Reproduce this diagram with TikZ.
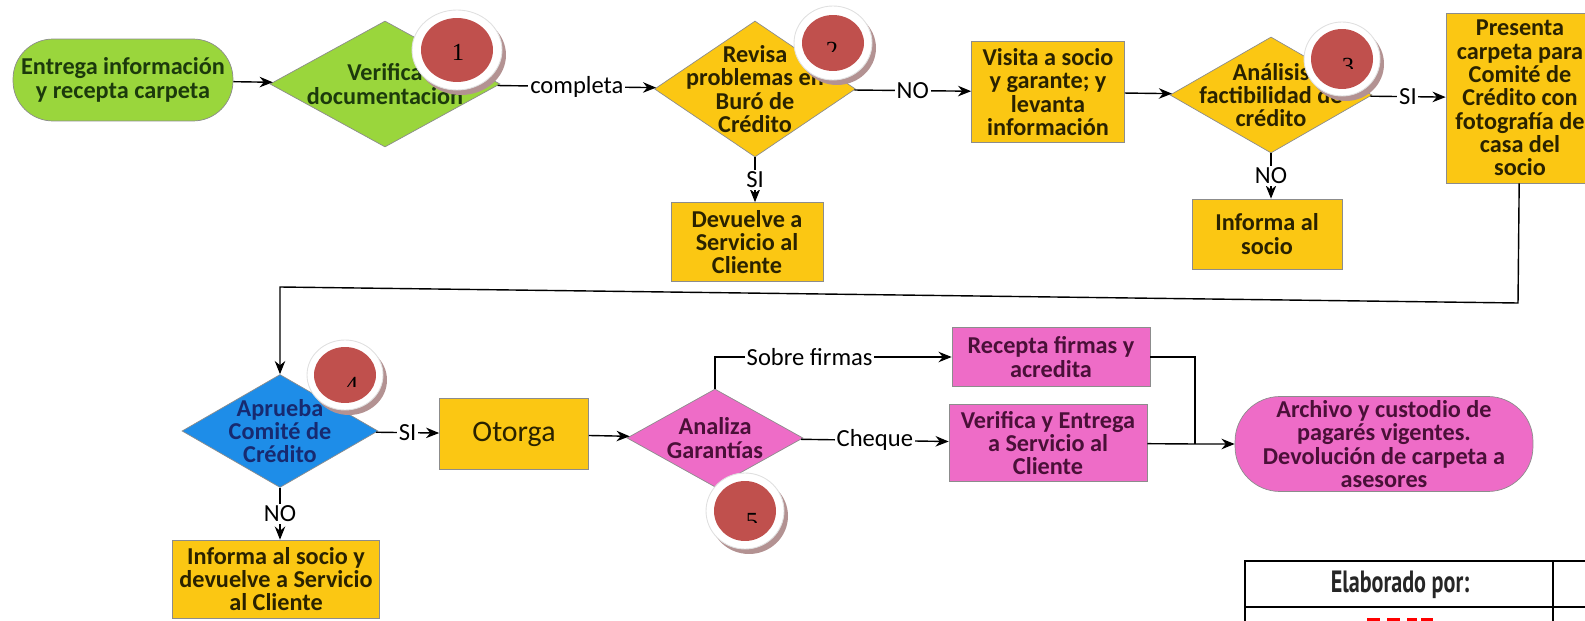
\documentclass[tikz,border=0pt]{standalone}
\usepackage{fontspec}
\setmainfont{Carlito}
\newfontfamily\numfont{Liberation Serif}
\newfontfamily\tabfont{PT Sans}[FakeStretch=0.72]
\usepackage{tikz}
\usetikzlibrary{shapes.geometric}
\usetikzlibrary{arrows.meta}

\definecolor{verde}{HTML}{9AD63C}
\definecolor{verdetxt}{HTML}{1C3A0C}
\definecolor{amarillo}{HTML}{FBC713}
\definecolor{amartxt}{HTML}{2A2200}
\definecolor{azul}{HTML}{1E8DE8}
\definecolor{azultxt}{HTML}{172A70}
\definecolor{rosa}{HTML}{EE6CC7}
\definecolor{rosatxt}{HTML}{4A1038}
\definecolor{rojo}{HTML}{C0504D}
\definecolor{sombra}{HTML}{B39292}

\begin{document}
\begin{tikzpicture}
	[x=0.02cm, y=-0.02cm, thick, >={Stealth[length=7.5pt, width=6pt]},
	txt/.style = {font=\bfseries\fontsize{13.8}{13.3}\selectfont, align=center},
	lbl/.style = {fill=white, inner sep=1pt, font=\fontsize{14}{14}\selectfont},
	proc/.style = {draw=black!45, thin, inner sep=0pt, txt},
	term/.style = {proc, rounded corners=0.8cm},
	dec/.style = {diamond, draw=black!45, thin, inner sep=0pt},
	shade/.style = {ellipse, fill=sombra, inner sep=0pt},
	ring/.style = {ellipse, fill=white, draw=black!12, line width=0.5pt, inner sep=0pt},
	dot/.style = {ellipse, fill=rojo, inner sep=0pt},
	num/.style = {font=\numfont\fontsize{14}{14}\selectfont, inner sep=0pt}]

	\useasboundingbox (0,0) rectangle (1585,621);
	\clip (0,0) rectangle (1585,621);

	\node[term, fill=verde, text=verdetxt, minimum width=4.4cm, minimum height=1.64cm] (1) at (123,80) {Entrega información\\y recepta carpeta};
	\node[dec, fill=verde, minimum width=4.6cm, minimum height=2.52cm, label={[txt, text=verdetxt]center:Verifica\\documentación}] (2) at (385,84) {};
	\node[dec, fill=amarillo, minimum width=4.02cm, minimum height=2.72cm, label={[txt, text=amartxt]center:Revisa\\problemas en\\Buró de\\Crédito}] (3) at (755,89) {};
	\node[proc, fill=amarillo, text=amartxt, minimum width=3.06cm, minimum height=2.02cm] (4) at (1048,92) {Visita a socio\\y garante; y\\levanta\\información};
	\node[dec, fill=amarillo, minimum width=4.04cm, minimum height=2.32cm, label={[txt, text=amartxt]center:Análisis\\factibilidad de\\crédito}] (5) at (1271,95) {};
	\node[proc, fill=amarillo, text=amartxt, minimum width=2.96cm, minimum height=3.4cm] (6) at (1520,98) {Presenta\\carpeta para\\Comité de\\Crédito con\\fotografía de\\casa del\\socio};
	\node[proc, fill=amarillo, text=amartxt, minimum width=3.04cm, minimum height=1.58cm] (7) at (747,242) {Devuelve a\\Servicio al\\Cliente};
	\node[proc, fill=amarillo, text=amartxt, minimum width=3cm, minimum height=1.4cm] (8) at (1267,234) {Informa al\\socio};
	\node[dec, fill=azul, minimum width=3.92cm, minimum height=2.26cm, label={[txt, text=azultxt]center:Aprueba\\Comité de\\Crédito}] (9) at (280,431) {};
	\node[proc, fill=amarillo, text=amartxt, font=\fontsize{17}{17}\selectfont, minimum width=2.98cm, minimum height=1.42cm] (10) at (514,434) {Otorga};
	\node[dec, fill=rosa, minimum width=3.52cm, minimum height=1.96cm, label={[txt, text=rosatxt]center:Analiza\\Garantías}] (11) at (715,438) {};
	\node[proc, fill=rosa, text=rosatxt, minimum width=3.96cm, minimum height=1.18cm] (12) at (1051,357) {Recepta firmas y\\acredita};
	\node[proc, fill=rosa, text=rosatxt, minimum width=3.96cm, minimum height=1.54cm] (13) at (1048,443) {Verifica y Entrega\\a Servicio al\\Cliente};
	\node[term, fill=rosa, text=rosatxt, rounded corners=0.9cm, minimum width=5.96cm, minimum height=1.9cm] (14) at (1384,444) {Archivo y custodio de\\pagarés vigentes.\\Devolución de carpeta a\\asesores};
	\node[proc, fill=amarillo, text=amartxt, minimum width=4.14cm, minimum height=1.56cm] (15) at (276,579) {Informa al socio y\\devuelve a Servicio\\al Cliente};

	\coordinate (k1) at (1518,303);
	\coordinate (k2) at (280,287);
	\coordinate (j) at (1195,444);

	\draw[->] (1) -- (2);
	\draw[->] (2) -- node[lbl] {completa} (3);
	\draw[->] (3) -- node[lbl] {NO} (4);
	\draw[->] (4) -- (5);
	\draw[->] (5) -- node[lbl] {SI} (6);
	\draw[->] (3.south) -- node[lbl] {SI} (3.south |- 7.north);
	\draw[->] (5.south) -- node[lbl] {NO} (5.south |- 8.north);
	\draw[->] (6) -- (k1) -- (k2) -- (9);
	\draw[->] (9) -- node[lbl] {SI} (10);
	\draw[->] (9.south) -- node[lbl] {NO} (9.south |- 15.north);
	\draw[->] (10) -- (11);
	\draw[->] (11) |- node[lbl, pos=0.7] {Sobre firmas} (12);
	\draw[->] (11) -- node[lbl] {Cheque} (13);
	\draw (12) -| (j);
	\draw[->] (13) -- (j) -- (14);

	\node[shade, minimum width=1.8cm, minimum height=1.6cm] at (461,55) {};
	\node[ring, minimum width=1.8cm, minimum height=1.6cm] (c1) at (457,50) {};
	\node[dot, minimum width=1.44cm, minimum height=1.28cm] at (c1) {};
	\node[num] (n1) at (458,52) {1};

	\node[shade, minimum width=1.56cm, minimum height=1.48cm] at (837,48) {};
	\node[ring, minimum width=1.56cm, minimum height=1.48cm] (c2) at (833,43) {};
	\node[dot, minimum width=1.24cm, minimum height=1.12cm] at (c2) {};
	\begin{scope}
		\clip (800,0) rectangle (870,52);
		\node[num, anchor=north] (n2) at (832,42) {2};
	\end{scope}

	\node[shade, minimum width=1.52cm, minimum height=1.48cm] at (1346,64) {};
	\node[ring, minimum width=1.52cm, minimum height=1.48cm] (c3) at (1342,59) {};
	\node[dot, minimum width=1.24cm, minimum height=1.2cm] at (c3) {};
	\begin{scope}
		\clip (1310,20) rectangle (1380,69);
		\node[num, anchor=north] (n3) at (1348,58) {3};
	\end{scope}

	\node[shade, minimum width=1.52cm, minimum height=1.4cm] at (349,380) {};
	\node[ring, minimum width=1.52cm, minimum height=1.4cm] (c4) at (345,375) {};
	\node[dot, minimum width=1.24cm, minimum height=1.12cm] at (c4) {};
	\begin{scope}
		\clip (310,340) rectangle (380,386);
		\node[num, anchor=north] (n4) at (352,377) {4};
	\end{scope}

	\node[shade, minimum width=1.56cm, minimum height=1.52cm] at (749,516) {};
	\node[ring, minimum width=1.56cm, minimum height=1.52cm] (c5) at (745,511) {};
	\node[dot, minimum width=1.24cm, minimum height=1.2cm] at (c5) {};
	\begin{scope}
		\clip (710,470) rectangle (780,522);
		\node[num, anchor=north] (n5) at (752,513) {5};
	\end{scope}

	\draw[line width=1.3pt] (1245,640) |- (1600,561);
	\draw[line width=1.3pt] (1245,607) -- (1600,607);
	\draw[line width=1.3pt] (1553,561) -- (1553,640);
	\node[font=\tabfont\bfseries\fontsize{17.5}{17.5}\selectfont, text=black!85] (tab) at (1400,585) {Elaborado por:};
	\fill[red] (1367,618) rectangle (1380,625);
	\fill[red] (1387,618) rectangle (1400,625);
	\fill[red] (1407,618) rectangle (1417,625);
	\fill[red] (1421,618) rectangle (1433,625);
\end{tikzpicture}
\end{document}
